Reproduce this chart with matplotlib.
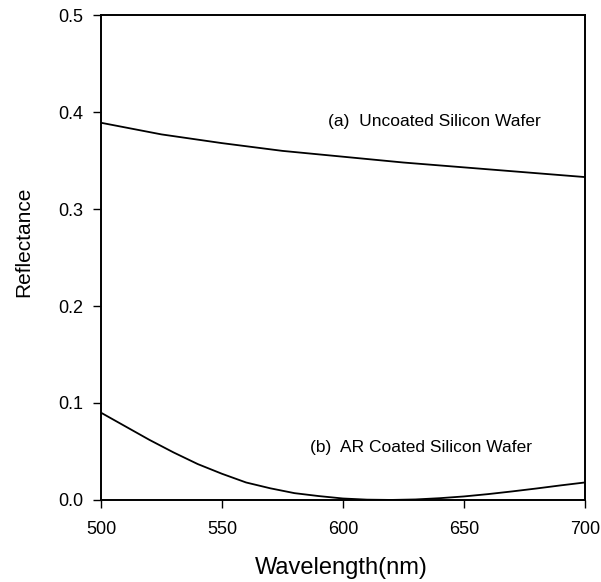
import matplotlib
matplotlib.use("Agg")
import matplotlib.pyplot as plt
import numpy as np

plt.rcParams['font.family'] = ['Liberation Sans', 'DejaVu Sans']

wl_a = [500, 525, 550, 575, 600, 625, 650, 675, 700]
refl_a = [0.389, 0.377, 0.368, 0.360, 0.354, 0.348, 0.343, 0.338, 0.333]

wl_b = [500, 510, 520, 530, 540, 550, 560, 570, 580, 590, 600, 610, 620, 630, 640, 650, 660, 670, 680, 690, 700]
refl_b = [0.090, 0.076, 0.062, 0.049, 0.037, 0.027, 0.018, 0.012, 0.007, 0.004, 0.0015, 0.0003, 0.000, 0.0005, 0.0018, 0.0036, 0.006, 0.0088, 0.0118, 0.015, 0.018]

label_a = "(a)  Uncoated Silicon Wafer"
label_b = "(b)  AR Coated Silicon Wafer"
x_ticks = [500, 550, 600, 650, 700]
y_ticks = [0.0, 0.1, 0.2, 0.3, 0.4, 0.5]

fig = plt.figure(figsize=(6.01, 5.82), dpi=100)
ax = fig.add_axes([0.168, 0.141, 0.805, 0.833])

ax.plot(wl_a, refl_a, color='black', lw=1.3)
ax.plot(wl_b, refl_b, color='black', lw=1.3)
ax.set_xlim(500, 700)
ax.set_ylim(0.0, 0.5)
ax.set_xticks(x_ticks)
ax.set_yticks(y_ticks)
ax.set_yticklabels([f"{v:.1f}" for v in y_ticks])
ax.tick_params(direction='out', length=6, width=1, labelsize=13, top=False, right=False)
ax.tick_params(axis='x', pad=9)
ax.tick_params(axis='y', pad=7)
for s in ax.spines.values():
    s.set_linewidth(1.4)

ax.text(593.8, 0.390, label_a, fontsize=12.5, va='center', ha='left')
ax.text(586.4, 0.054, label_b, fontsize=12.5, va='center', ha='left')

ax.set_xlabel("Wavelength(nm)", fontsize=17)
ax.set_ylabel("Reflectance", fontsize=15)
ax.xaxis.set_label_coords(0.496, -0.140)
ax.xaxis.label.set_verticalalignment('center')
ax.yaxis.set_label_coords(-0.159, 0.532)
ax.yaxis.label.set_verticalalignment('center')
ax.yaxis.label.set_horizontalalignment('center')

fig.savefig("out.png", dpi=100)
